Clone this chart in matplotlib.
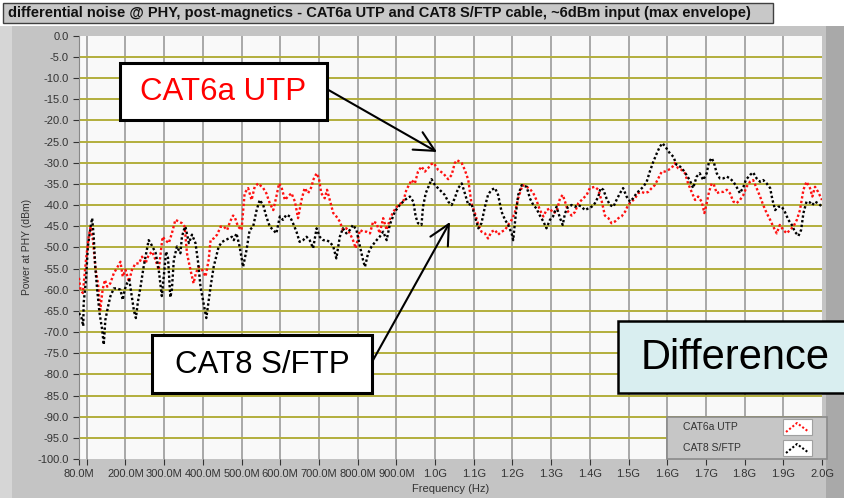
import matplotlib
matplotlib.use("Agg")
import matplotlib.pyplot as plt
from matplotlib.patches import Rectangle
from matplotlib.ticker import FuncFormatter, FixedLocator

# frequencies in MHz, power in dBm
cat6a_freq = [80, 84, 90, 95, 98, 105, 110, 116, 123, 129,
              135, 141, 147, 153, 161, 170, 178, 187, 193, 200,
              209, 217, 226, 235, 243, 252, 260, 269, 278, 286,
              290, 296, 303, 312, 320, 329, 338, 346, 353, 359,
              368, 376, 382, 389, 398, 407, 415, 420, 428, 437,
              446, 454, 463, 470, 478, 482, 491, 500, 508, 517,
              526, 534, 543, 556, 564, 573, 582, 590, 597, 603,
              612, 620, 629, 638, 646, 655, 663, 672, 681, 685,
              694, 700, 706, 715, 721, 728, 737, 745, 754, 762,
              771, 780, 788, 795, 806, 814, 823, 832, 840, 849,
              857, 866, 875, 883, 892, 905, 918, 926, 935, 939,
              948, 956, 965, 974, 982, 991, 997, 1008, 1021, 1034,
              1043, 1051, 1057, 1069, 1077, 1086, 1094, 1103, 1112, 1120,
              1129, 1137, 1146, 1155, 1163, 1172, 1181, 1189, 1198, 1206,
              1215, 1226, 1237, 1245, 1254, 1262, 1271, 1280, 1288, 1297,
              1305, 1314, 1323, 1330, 1336, 1344, 1353, 1362, 1370, 1379,
              1392, 1400, 1413, 1422, 1431, 1439, 1448, 1456, 1465, 1474,
              1482, 1491, 1499, 1508, 1517, 1525, 1534, 1542, 1551, 1560,
              1568, 1577, 1586, 1594, 1603, 1611, 1620, 1628, 1637, 1646,
              1654, 1663, 1672, 1680, 1689, 1696, 1702, 1708, 1715, 1721,
              1728, 1736, 1745, 1754, 1762, 1771, 1779, 1788, 1797, 1805,
              1814, 1822, 1831, 1840, 1848, 1857, 1866, 1874, 1883, 1891,
              1900, 1909, 1917, 1926, 1935, 1943, 1952, 1960, 1969, 1975,
              1982, 1990, 2000]
cat6a_dbm = [-57.2, -60, -60.8, -56, -53, -47.5, -45.1, -48.3, -55.3, -58.5,
             -64.8, -60, -57.7, -59.3, -58.5, -56.1, -54.9, -53.4, -56.9, -55.3,
             -58.1, -55.3, -53.8, -53.8, -52.2, -53.8, -51.8, -51, -53, -55.3,
             -52.2, -47.5, -48.3, -49, -46.7, -43.5, -43.9, -44.3, -45.1, -51.4,
             -55.3, -58.5, -56.1, -54.6, -55.3, -56.9, -53, -48.3, -47.9, -47,
             -45.1, -45.1, -45.9, -44, -42.5, -42.7, -45.1, -45.9, -37.2, -36,
             -38.8, -35.7, -34.9, -36, -37.2, -39.6, -41.2, -38, -34.9, -35.7,
             -38.8, -38, -37.2, -39.2, -43.1, -38.8, -36, -37.2, -35.7, -34.1,
             -32.5, -33.7, -37.2, -38.4, -36.4, -38.8, -41.9, -42.7, -43.9, -45.9,
             -45.5, -46.7, -48.3, -50.2, -45.9, -46.3, -46.3, -46.7, -43.9, -44.3,
             -46.7, -43.1, -45.9, -43.5, -41.6, -40, -39.2, -36.4, -34.9, -34.1,
             -34.9, -32.1, -30.9, -32.1, -31.3, -30.3, -30.1, -31.7, -32.5, -33.9,
             -32.9, -30.1, -29.4, -30.1, -31.7, -34.1, -39.6, -41.9, -44.7, -46.3,
             -46.7, -47.9, -46.3, -45.9, -47, -46.3, -45.9, -44.7, -43.5, -41.9,
             -38.4, -35.3, -35.7, -36.2, -37.2, -38.8, -41.2, -42.7, -41.2, -40.8,
             -41.9, -41.6, -38.4, -37.6, -39.2, -41.6, -42.5, -41.6, -39.6, -38.8,
             -37.6, -36, -35.7, -36.4, -39.2, -42.5, -43.1, -44.3, -43.9, -43.1,
             -42.7, -41.6, -40, -39.2, -38.4, -37.2, -36.9, -37.2, -36.9, -36,
             -35.3, -33.7, -32.1, -32.1, -31.7, -31.3, -30.1, -31.3, -31.7, -32.5,
             -34.9, -36.9, -38.8, -38, -39.2, -41.9, -39.6, -36.9, -34.9, -35.3,
             -37.2, -36.9, -36.9, -36.4, -37.2, -39.2, -39.6, -38.8, -37.6, -35.7,
             -34.5, -34.1, -36, -38, -40, -41.9, -43.5, -45.1, -46.7, -44.7,
             -45.9, -46.7, -45.9, -45.1, -43.5, -41.2, -36.4, -34.5, -36, -38,
             -35.7, -36.9, -38.8]

cat8_freq = [80, 86, 91, 92, 98, 103, 110, 114, 118, 122,
             127, 133, 140, 144, 148, 155, 161, 170, 178, 187,
             193, 198, 204, 210, 217, 222, 227, 232, 239, 247,
             252, 260, 265, 278, 286, 294, 300, 305, 310, 316,
             320, 325, 333, 342, 346, 351, 355, 364, 372, 381,
             388, 394, 402, 409, 420, 428, 441, 450, 458, 467,
             475, 480, 487, 495, 504, 513, 521, 530, 539, 547,
             556, 564, 573, 582, 590, 599, 607, 616, 625, 633,
             642, 650, 659, 668, 676, 685, 694, 702, 711, 719,
             728, 737, 745, 754, 762, 771, 780, 788, 797, 806,
             814, 819, 827, 836, 849, 857, 866, 875, 883, 896,
             909, 922, 935, 944, 950, 956, 965, 969, 976, 983,
             991, 1000, 1012, 1025, 1034, 1043, 1051, 1060, 1069, 1077,
             1086, 1094, 1103, 1112, 1120, 1129, 1137, 1146, 1155, 1163,
             1172, 1181, 1189, 1198, 1202, 1209, 1215, 1224, 1237, 1245,
             1254, 1262, 1271, 1280, 1288, 1297, 1305, 1314, 1323, 1330,
             1336, 1344, 1353, 1362, 1370, 1379, 1387, 1396, 1405, 1413,
             1422, 1428, 1435, 1443, 1452, 1461, 1469, 1478, 1486, 1495,
             1504, 1512, 1521, 1530, 1538, 1547, 1555, 1564, 1573, 1581,
             1588, 1598, 1607, 1616, 1624, 1633, 1641, 1650, 1658, 1667,
             1676, 1684, 1693, 1702, 1708, 1715, 1721, 1728, 1736, 1745,
             1754, 1762, 1771, 1779, 1788, 1797, 1803, 1814, 1822, 1831,
             1840, 1848, 1857, 1866, 1872, 1879, 1887, 1896, 1904, 1913,
             1922, 1930, 1939, 1946, 1952, 1960, 1969, 1975, 1982, 1990,
             2000]
cat8_dbm = [-65.5, -66.5, -68.6, -63.2, -57.7, -49.8, -45.1, -43.1, -47.5, -54.6,
            -60, -65.5, -69.5, -73, -67.2, -64, -61.6, -59.7, -59.7, -60,
            -62.4, -60, -58.5, -57.7, -62, -65, -66.7, -63, -59.3, -54.6,
            -52.2, -48.3, -49, -51.3, -55.3, -61.5, -56, -51, -52.5, -61.8,
            -60, -53, -49.8, -51.4, -47.5, -45.9, -45.1, -49, -47, -49,
            -53.7, -59.3, -63.2, -66.7, -59.3, -54.6, -49.8, -48.7, -48.3, -47.9,
            -47.5, -48.3, -46.7, -49.8, -54.6, -50.6, -45.9, -45.1, -41.2, -38.8,
            -40, -42.7, -45.1, -45.9, -46.7, -42.7, -43.5, -42.3, -42.7, -44.3,
            -46.3, -48.7, -48.3, -47.5, -48.3, -50.2, -45.5, -47.5, -48.3, -48.3,
            -48.7, -49.8, -52.6, -47.5, -45.5, -46.7, -45.9, -44.7, -45.9, -49.8,
            -53, -54.6, -51.4, -49.8, -48.3, -47.5, -46.3, -48.3, -44.7, -41.6,
            -40, -38.8, -38, -39.2, -42.7, -44.3, -44.7, -40.4, -37.2, -35.7,
            -33.9, -35.3, -36.4, -37.6, -39.2, -40, -38.4, -36, -34.9, -37.2,
            -40, -39.6, -42.7, -45.5, -44.3, -40.4, -37.6, -36.4, -36, -37.6,
            -41.6, -43.5, -44.7, -46.7, -48.3, -41.9, -37.6, -35.3, -35.7, -38.4,
            -40, -40.8, -42.5, -43.9, -45.5, -43.5, -42.7, -40.4, -43.1, -44.7,
            -41.9, -40.4, -40, -40.4, -40, -40.4, -41.2, -40.8, -40.4, -39.6,
            -38, -36, -36.4, -38.4, -40, -40.4, -38.8, -37.2, -36, -38,
            -39.2, -38.4, -37.2, -36.4, -35.7, -34.5, -32.1, -29.8, -27.8, -26.2,
            -25.4, -26.6, -27.8, -28.6, -30.5, -30.9, -31.7, -32.9, -34.1, -36,
            -33.3, -32.5, -34.1, -32.5, -29.8, -28.9, -30.1, -32.5, -33.7, -33.7,
            -33.3, -33.7, -34.5, -35.7, -37.2, -35.7, -34.1, -32.9, -32.3, -33.7,
            -34.5, -34.1, -34.9, -36, -38.8, -41.2, -40.4, -40.4, -41.6, -43.5,
            -44.7, -46.3, -47.3, -45.9, -41.9, -39.2, -39.4, -40, -39.2, -39.6,
            -40.4]

series_names = ["CAT6a UTP", "CAT8 S/FTP"]
series_colors = ["#ff1010", "#000000"]

title = ("differential noise @ PHY, post-magnetics - CAT6a UTP and CAT8 S/FTP "
         "cable, ~6dBm input (max envelope)")

W, H = 844, 498
font = ["Liberation Sans", "DejaVu Sans"]
plt.rcParams["font.family"] = font


def fr(x, y):
    # pixel (from top-left) -> figure fraction
    return x / W, 1 - y / H


def freq_label(v, pos):
    if v < 1000:
        return "%.1fM" % v
    return "%.1fG" % (v / 1000.0)


fig = plt.figure(figsize=(W / 100, H / 100), dpi=100, facecolor="#c4c4c4")

# panel decoration
fig.add_artist(Rectangle((0, 1 - 26 / H), 1, 26 / H, transform=fig.transFigure,
                         facecolor="white", edgecolor="none", zorder=0))
fig.add_artist(Rectangle((0, 0), 12 / W, 1 - 26 / H, transform=fig.transFigure,
                         facecolor="#d6d6d6", edgecolor="none", zorder=0))
fig.add_artist(Rectangle((826 / W, 0), 18 / W, 1 - 26 / H, transform=fig.transFigure,
                         facecolor="#a9a9a9", edgecolor="none", zorder=0))
fig.add_artist(Rectangle(fr(3, 23), 770 / W, 20 / H, transform=fig.transFigure,
                         facecolor="#c8c8c8", edgecolor="#404040", lw=1, zorder=1))
fig.text(*fr(8, 13.5), title, fontsize=10.5, fontweight="bold",
         family=["Liberation Sans Narrow", "Liberation Sans", "DejaVu Sans"],
         va="center", ha="left", color="#111111")

ax = fig.add_axes([79 / W, 1 - 459 / H, 743 / W, 423.3 / H])
ax.set_facecolor("#f9f9f9")

for f, d, c in zip([cat6a_freq, cat8_freq], [cat6a_dbm, cat8_dbm], series_colors):
    ax.plot(f, d, color=c, lw=1.7, linestyle=(0, (1, 1)), zorder=3)

ax.set_xlim(80, 2000)
ax.set_ylim(-100, 0)

major_x = [80] + list(range(200, 2001, 100))
ax.xaxis.set_major_locator(FixedLocator(major_x))
ax.xaxis.set_minor_locator(FixedLocator([100]))
ax.xaxis.set_major_formatter(FuncFormatter(freq_label))
ax.yaxis.set_major_locator(FixedLocator(list(range(-100, 1, 5))))
ax.yaxis.set_major_formatter(FuncFormatter(lambda v, p: "%.1f" % v))
ax.tick_params(axis="both", labelsize=8, colors="#333333", length=4, width=0.8)
ax.tick_params(axis="x", which="minor", length=4, width=0.8, color="#333333")

for xv in range(100, 2000, 100):
    ax.axvline(xv, color="#a8a8a8", lw=1.4, zorder=1)
for yv in range(-95, 0, 5):
    ax.axhline(yv, color="#b3ae3c", lw=1.4, zorder=1)

for s in ["top", "right", "bottom"]:
    ax.spines[s].set_visible(False)
ax.spines["left"].set_color("#888888")

ax.set_xlabel("Frequency (Hz)", fontsize=8, color="#333333", labelpad=3)
ax.set_ylabel("Power at PHY (dBm)", fontsize=7.5, color="#333333", labelpad=4)

# callout boxes
fig.add_artist(Rectangle(fr(120, 120), 207 / W, 57 / H, transform=fig.transFigure,
                         facecolor="white", edgecolor="black", lw=2.2, zorder=5))
fig.text(*fr(223, 92), "CAT6a UTP", fontsize=22.5, color="#ff0000",
         ha="center", va="center", zorder=6)
fig.add_artist(Rectangle(fr(152, 393), 220 / W, 58 / H, transform=fig.transFigure,
                         facecolor="white", edgecolor="black", lw=2.2, zorder=5))
fig.text(*fr(262, 365), "CAT8 S/FTP", fontsize=22.5, color="black",
         ha="center", va="center", zorder=6)
fig.add_artist(Rectangle(fr(618, 392.5), 240 / W, 72 / H, transform=fig.transFigure,
                         facecolor="#d9eef0", edgecolor="black", lw=1.8, zorder=5))
fig.text(*fr(735, 358), "Difference", fontsize=30, color="black",
         ha="center", va="center", zorder=6)

arrow = dict(arrowstyle="->,head_length=0.9,head_width=0.45", lw=1.5,
             color="black", mutation_scale=16, shrinkA=0, shrinkB=0)
ax.annotate("", xy=(437, H - 152), xytext=(325, H - 88),
            xycoords="figure pixels", textcoords="figure pixels",
            arrowprops=arrow, zorder=7)
ax.annotate("", xy=(450, H - 222), xytext=(372, H - 362),
            xycoords="figure pixels", textcoords="figure pixels",
            arrowprops=arrow, zorder=7)

# legend panel
fig.add_artist(Rectangle(fr(667, 459), 160 / W, 42 / H, transform=fig.transFigure,
                         facecolor="#c6c6c6", edgecolor="#8a8a8a", lw=1.2, zorder=8))
for i, (name, col) in enumerate(zip(series_names, series_colors)):
    ytxt = 427 + i * 21
    fig.text(*fr(683, ytxt), name, fontsize=7.5, color="#333333",
             ha="left", va="center", zorder=9)
    fig.add_artist(Rectangle(fr(783, ytxt + 8), 29 / W, 16 / H,
                             transform=fig.transFigure, facecolor="white",
                             edgecolor="#a0a0a0", lw=0.8, zorder=9))
    xs = [786, 797, 809]
    ys = [ytxt + 5, ytxt - 4, ytxt + 5]
    fig.add_artist(plt.Line2D([x / W for x in xs], [1 - y / H for y in ys],
                              transform=fig.transFigure, color=col, lw=1.5,
                              linestyle=(0, (1, 1)), zorder=10))

fig.savefig("out.png", dpi=100, facecolor=fig.get_facecolor())
